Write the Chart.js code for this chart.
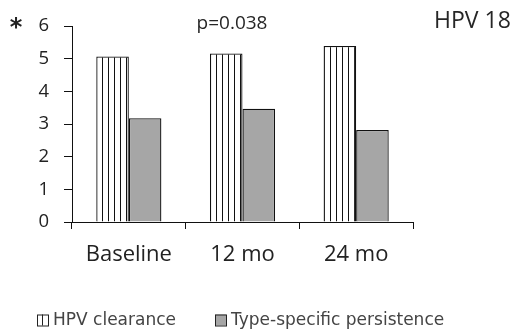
<!DOCTYPE html>
<html>
<head>
<meta charset="utf-8">
<script src="https://cdn.jsdelivr.net/npm/chart.js@4.4.0/dist/chart.umd.min.js"></script>
<style>
  html, body { margin: 0; padding: 0; background: #fff; }
  #wrap { width: 510px; height: 330px; position: relative; }
</style>
</head>
<body>
<div id="wrap"><canvas id="hpvChart"></canvas></div>
<script>
// ===== Data =====
const categories = ['Baseline', '12 mo', '24 mo'];
const clearance = [5.07, 5.16, 5.39];
const persistence = [3.18, 3.47, 2.82];
const yTicks = [0, 1, 2, 3, 4, 5, 6];
const seriesNames = ['HPV clearance', 'Type-specific persistence'];

// vertical stripe pattern for the clearance bars
function stripePattern(w) {
  const c = document.createElement('canvas');
  c.width = w; c.height = 4;
  const g = c.getContext('2d');
  g.fillStyle = '#fff';
  g.fillRect(0, 0, w, 4);
  g.fillStyle = '#111';
  g.fillRect(0, 0, 1, 4);
  return g.createPattern(c, 'repeat');
}

const stripes = stripePattern(6);
const greyFill = '#a6a6a6';
const openSans = "'Open Sans', sans-serif";

// ===== Text + legend drawn after chart =====
const extras = {
  id: 'extras',
  afterDraw(chart) {
    const ctx = chart.ctx;
    ctx.save();
    ctx.fillStyle = '#222';
    ctx.textBaseline = 'middle';
    ctx.font = "bold 24px 'DejaVu Sans', sans-serif";
    ctx.textAlign = 'center';
    ctx.fillText('*', 16, 29);

    ctx.font = '19px ' + openSans;
    ctx.fillStyle = '#262626';
    ctx.fillText('p=0.038', 232, 24);
    ctx.textAlign = 'left';
    ctx.font = '23px ' + openSans;
    ctx.fillText('HPV 18', 434, 21);

    // legend
    const items = chart.data.datasets;
    const xs = [37, 215];
    ctx.font = "17px 'DejaVu Sans', sans-serif";
    items.forEach((ds, i) => {
      const x = xs[i], y = 314.5;
      ctx.fillStyle = i === 0 ? '#fff' : ds.backgroundColor;
      ctx.fillRect(x, y, 11, 11);
      if (i === 0) {
        ctx.fillStyle = '#222';
        ctx.fillRect(x + 5, y, 1, 11);
      }
      ctx.strokeStyle = '#222';
      ctx.lineWidth = 1;
      ctx.strokeRect(x + 0.5, y + 0.5, 11, 11);
      ctx.fillStyle = '#444';
      ctx.fillText(ds.label, x + 16, y + 6.5);
    });
    ctx.restore();
  }
};

new Chart(document.getElementById('hpvChart'), {
  type: 'bar',
  data: {
    labels: categories,
    datasets: [{
      label: seriesNames[0],
      data: clearance,
      backgroundColor: stripes,
      borderColor: '#111',
      borderWidth: 1.3
    }, {
      label: seriesNames[1],
      data: persistence,
      backgroundColor: greyFill,
      borderColor: '#111',
      borderWidth: 1.3
    }]
  },
  options: {
    responsive: true,
    maintainAspectRatio: false,
    animation: false,
    layout: { padding: { left: 0, right: 97, top: 23, bottom: 0 } },
    datasets: { bar: { categoryPercentage: 0.573, barPercentage: 1 } },
    plugins: {
      legend: { display: false },
      tooltip: { enabled: false }
    },
    scales: {
      y: {
        min: 0,
        max: 6,
        afterBuildTicks: (s) => { s.ticks = yTicks.map(v => ({ value: v })); },
        afterFit: (s) => { s.width = 72; },
        ticks: { font: { family: openSans, size: 18.5 }, color: '#222', padding: 15 },
        grid: { drawOnChartArea: false, drawTicks: true, tickLength: 8, color: '#111' },
        border: { display: true, color: '#111', width: 1 }
      },
      x: {
        afterFit: (s) => { s.height = 108; },
        ticks: { font: { family: openSans, size: 22 }, color: '#222', padding: 13 },
        grid: { offset: true, drawOnChartArea: false, drawTicks: true, tickLength: 7, color: '#111' },
        border: { display: true, color: '#111', width: 1 }
      }
    }
  },
  plugins: [extras]
});
</script>
</body>
</html>
